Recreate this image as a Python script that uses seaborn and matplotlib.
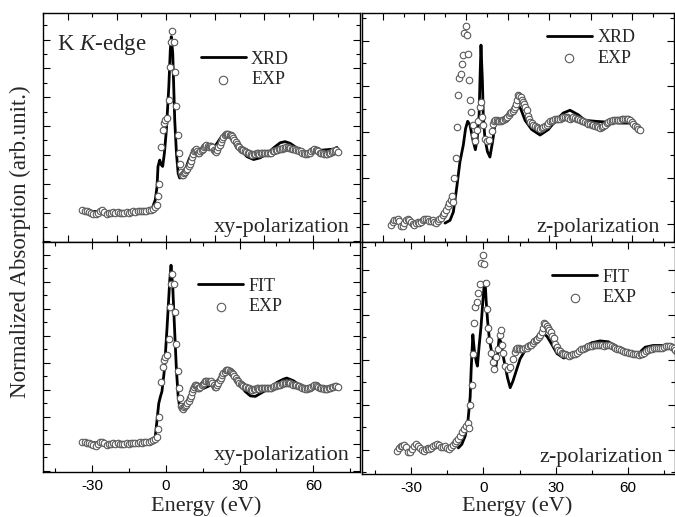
import numpy as np
import pandas as pd
import matplotlib
matplotlib.use("Agg")
import matplotlib.pyplot as plt
from matplotlib.ticker import MultipleLocator
import seaborn as sns

sns.set_theme(style="white")
plt.rcParams['font.family'] = ['Liberation Serif', 'DejaVu Serif']
plt.rcParams['mathtext.fontset'] = 'custom'
plt.rcParams['mathtext.rm'] = 'Liberation Serif'
plt.rcParams['mathtext.it'] = 'Liberation Serif:italic'

# ---------------- data ----------------
# experimental xy-polarization spectrum (energy eV, normalized absorption)
xy_exp_E = [-34.0, -33.1, -32.2, -31.3, -30.4, -29.5, -28.6, -27.7, -26.8, -25.9, -25.0, -24.1,
            -23.2, -22.3, -21.4, -20.5, -19.6, -18.7, -17.8, -16.9, -16.0, -15.1, -14.2, -13.3,
            -12.4, -11.5, -10.6, -9.7, -8.8, -7.9, -7.0, -6.1, -5.2, -4.3,
            -3.6, -3.3, -2.9, -1.8, -1.3, -0.9, -0.2, 0.5, 1.2, 1.6, 2.2, 2.5, 3.2, 3.6, 4.3, 4.8, 5.2,
            5.6, 6.2, 6.7, 7.1, 7.5, 7.9, 8.3, 8.8, 9.3, 9.7, 10.1, 10.6, 11.0, 11.4, 11.8, 12.2,
            12.7, 13.1, 13.5, 14.0, 14.5, 15.0, 15.5, 16.0, 16.5, 17.0, 17.4, 17.9, 18.4, 18.9,
            19.4, 19.9, 20.4, 20.9, 21.4, 21.9, 22.4, 22.9, 23.4, 23.9, 24.4, 24.9, 25.4, 25.9,
            26.4, 26.9, 27.4, 27.9, 28.4, 28.9, 29.4, 29.9, 30.4, 30.9, 31.5, 32.1, 32.7, 33.3,
            33.9, 34.5, 35.1, 35.7, 36.3, 36.9, 37.5, 38.1, 38.7, 39.3, 39.9, 40.5, 41.1, 41.7,
            42.3, 42.9, 43.5, 44.1, 44.7, 45.3, 45.9, 46.5, 47.1, 47.7, 48.3, 48.9, 49.5, 50.1,
            50.7, 51.3, 51.9, 52.5, 53.1, 53.7, 54.3, 54.9, 55.5, 56.1, 56.7, 57.3, 57.9, 58.5,
            59.1, 59.7, 60.3, 60.9, 61.5, 62.1, 62.7, 63.3, 63.9, 64.5, 65.1, 65.7, 66.3, 66.9,
            67.5, 68.1, 68.7, 69.3, 69.9]
xy_exp_A = [0.04, 0.03, 0.02, 0.01, 0.00, -0.02, -0.03, 0.00, 0.03, 0.04, 0.01, -0.02,
            -0.01, 0.00, 0.01, 0.00, 0.01, 0.00, -0.01, 0.00, 0.01, 0.00, 0.01, 0.02,
            0.01, 0.02, 0.03, 0.02, 0.03, 0.03, 0.04, 0.05, 0.07, 0.10,
            0.13, 0.28, 0.50, 1.14, 1.43, 1.55, 1.61, 1.64, 1.95, 2.53, 2.96, 3.15, 2.96, 2.44, 1.85, 1.35, 1.03,
            0.85, 0.71, 0.66, 0.65, 0.68, 0.70, 0.73, 0.76, 0.80, 0.85, 0.89, 0.97, 1.01, 1.06, 1.09, 1.10,
            1.07, 1.04, 1.03, 1.06, 1.09, 1.11, 1.13, 1.16, 1.17, 1.16, 1.14, 1.15, 1.16, 1.13,
            1.09, 1.06, 1.05, 1.09, 1.13, 1.18, 1.22, 1.27, 1.31, 1.34, 1.36, 1.37, 1.37, 1.35,
            1.34, 1.32, 1.29, 1.26, 1.22, 1.19, 1.16, 1.13, 1.11, 1.09, 1.08, 1.06, 1.05, 1.04,
            1.03, 1.01, 1.00, 1.02, 1.02, 1.03, 1.03, 1.02, 1.03, 1.03, 1.03, 1.04, 1.04, 1.03,
            1.03, 1.04, 1.06, 1.07, 1.08, 1.09, 1.10, 1.10, 1.11, 1.12, 1.12, 1.13, 1.13, 1.12,
            1.12, 1.11, 1.10, 1.10, 1.09, 1.08, 1.07, 1.06, 1.04, 1.03, 1.02, 1.02, 1.03, 1.04,
            1.06, 1.08, 1.10, 1.09, 1.08, 1.06, 1.04, 1.03, 1.03, 1.02, 1.02, 1.02, 1.03, 1.04,
            1.05, 1.06, 1.07, 1.08, 1.05]

# XRD-model calculation, xy-polarization
xy_xrd_E = [-34.0, -20.0, -10.0, -6.5, -5.5, -4.3, -3.6, -3.2, -2.5, -1.9, -1.3, -0.6, 0.2, 1.2,
            1.8, 2.2, 2.8, 3.2, 3.6, 4.3, 5.0, 5.6, 6.6, 7.9, 9.3, 10.6, 12.0, 14.0, 16.1, 18.1,
            19.7, 20.8, 22.2, 24.2, 25.5, 26.9, 28.9, 30.9, 33.0, 35.7, 38.4, 41.1, 43.8, 46.5,
            48.5, 50.6, 52.6, 54.7, 57.4, 60.1, 62.8, 65.5, 68.2, 69.6]
xy_xrd_A = [0.02, 0.02, 0.02, 0.04, 0.08, 0.22, 0.45, 0.80, 0.91, 0.83, 0.80, 1.03, 1.43, 2.18,
            2.82, 3.05, 2.76, 2.18, 1.61, 1.03, 0.68, 0.60, 0.61, 0.74, 0.91, 1.03, 1.09, 1.07, 1.10, 1.11,
            1.14, 1.20, 1.29, 1.37, 1.39, 1.32, 1.19, 1.06, 0.97, 0.92, 0.95, 1.02, 1.12, 1.21,
            1.23, 1.20, 1.14, 1.08, 1.04, 1.06, 1.08, 1.09, 1.10, 1.13]

# fitted calculation, xy-polarization
xy_fit_E = [-34.0, -20.0, -10.0, -6.0, -4.3, -3.6, -2.9, -2.2, -1.6, -0.6, 0.5, 1.6, 2.1, 2.8,
            3.5, 4.3, 5.0, 5.6, 6.6, 7.5, 8.6, 9.95, 11.3, 13.3, 15.4, 17.4, 19.4, 21.5, 23.5,
            25.1, 26.5, 28.2, 30.3, 32.3, 34.4, 36.4, 39.8, 42.5, 45.2, 47.9, 49.2, 51.9, 54.7,
            57.4, 60.8, 64.1, 67.5, 69.6]
xy_fit_A = [0.02, 0.02, 0.02, 0.04, 0.14, 0.44, 0.75, 0.88, 0.97, 1.37, 2.17, 3.04, 3.31, 2.91,
            2.17, 1.37, 0.88, 0.69, 0.62, 0.66, 0.78, 0.91, 0.97, 1.00, 1.03, 1.07, 1.12, 1.19, 1.28,
            1.37, 1.36, 1.25, 1.09, 0.97, 0.89, 0.88, 0.97, 1.04, 1.14, 1.20, 1.22, 1.17, 1.08,
            1.03, 1.04, 1.04, 1.07, 1.08]

# experimental z-polarization spectrum
z_exp_E = [-36.0, -35.2, -34.4, -33.6, -32.8, -32.0, -31.2, -30.4, -29.6, -28.8, -28.0, -27.2,
           -26.4, -25.6, -24.8, -24.0, -23.2, -22.4, -21.6, -20.8, -20.0, -19.2, -18.4, -17.6,
           -16.8, -16.0, -15.2, -14.4, -13.6, -12.8, -12.0, -11.2, -10.4, -9.6, -8.8, -8.0,
           -7.2, -6.6, -6.1, -5.6, -4.8, -4.5, -4.0, -3.4, -2.6, -2.1, -1.3, -1.0, -0.2, 0.3,
           1.1, 1.4, 1.9, 2.4, 3.2, 3.8, 4.5, 5.1, 5.9, 6.7, 7.1, 7.5, 8.3, 9.1, 10.3, 11.2,
           12.3, 13.0, 13.5, 14.1, 14.7, 15.3, 16.0, 16.6, 17.3, 17.9, 18.6, 19.2, 19.8, 20.5,
           21.1, 21.8, 22.4, 23.0, 23.6, 24.2, 24.7, 25.2, 25.7, 26.3, 26.8, 27.4, 28.0, 28.6,
           29.2, 29.8, 30.4, 31.0, 31.6, 32.4, 33.2, 34.0, 34.8, 35.6, 36.4, 37.2, 38.0, 38.8,
           39.6, 40.4, 41.2, 42.0, 42.8, 43.6, 44.4, 45.2, 46.0, 46.8, 47.6, 48.4, 49.2, 50.0,
           50.8, 51.6, 52.4, 53.2, 54.0, 54.8, 55.6, 56.4, 57.2, 58.0, 58.8, 59.6, 60.4, 61.2,
           62.0, 62.8, 63.6, 64.4, 65.2, 66.0, 66.8, 67.6, 68.4, 69.2, 70.0, 70.9, 71.7, 72.5,
           73.3, 74.1, 74.9, 75.7, 76.5, 77.3, 78.1, 78.9, 79.7, 80.5, 81.3, 82.1, 82.9, 83.7]
z_exp_A = [-0.01, 0.02, 0.04, 0.04, 0.05, 0.03, -0.02, -0.02, 0.01, 0.04, 0.06, 0.04,
           0.02, 0.00, -0.01, 0.01, 0.02, 0.01, 0.02, 0.04, 0.05, 0.06, 0.05, 0.03,
           0.03, 0.04, 0.02, 0.01, 0.03, 0.05, 0.07, 0.10, 0.12, 0.15, 0.20, 0.23,
           0.26, 0.30, 0.24, 0.50, 0.72, 1.06, 1.41, 1.59, 1.64, 1.74, 1.84, 2.08, 2.16, 2.06,
           1.85, 1.57, 1.35, 1.22, 1.08, 0.97, 0.90, 1.03, 1.12, 1.28, 1.33, 1.17, 1.08, 0.93, 0.90, 0.92,
           1.01, 1.09, 1.12, 1.13, 1.13, 1.12, 1.12, 1.12, 1.13, 1.13, 1.15, 1.16, 1.17, 1.19,
           1.21, 1.22, 1.23, 1.25, 1.28, 1.31, 1.35, 1.41, 1.40, 1.38, 1.35, 1.33, 1.31, 1.27,
           1.24, 1.18, 1.14, 1.11, 1.10, 1.08, 1.07, 1.06, 1.05, 1.04, 1.05, 1.06, 1.07, 1.08,
           1.10, 1.12, 1.12, 1.13, 1.14, 1.15, 1.15, 1.15, 1.16, 1.17, 1.17, 1.17, 1.16, 1.15,
           1.16, 1.17, 1.16, 1.15, 1.14, 1.13, 1.12, 1.12, 1.11, 1.10, 1.09, 1.09, 1.08, 1.08,
           1.07, 1.07, 1.06, 1.05, 1.06, 1.07, 1.08, 1.10, 1.11, 1.12, 1.12, 1.13, 1.13, 1.13,
           1.13, 1.13, 1.14, 1.15, 1.15, 1.15, 1.14, 1.13, 1.11, 1.09, 1.07, 1.06, 1.04, 1.03]

# XRD-model calculation, z-polarization
z_xrd_E = [-10.1, -7.7, -6.1, -4.5, -2.9, -1.3, -0.2, 0.8, 1.9, 3.2, 4.5, 5.4, 6.3, 6.7, 7.2,
           7.9, 8.3, 9.1, 10.3, 11.5, 12.8, 13.9, 15.1, 17.1, 19.6, 22.0, 24.0, 25.0, 26.4,
           28.4, 31.6, 35.6, 39.6, 42.8, 46.8, 50.0, 54.0, 57.2, 62.0, 68.4, 74.8, 81.3]
z_xrd_A = [0.01, 0.04, 0.13, 0.39, 0.68, 0.86, 1.04, 1.12, 1.08, 0.93, 0.81, 0.93, 1.19, 1.55, 1.95,
           1.55, 1.19, 0.93, 0.79, 0.73, 0.90, 1.08, 1.12, 1.13, 1.15, 1.21, 1.28, 1.30, 1.25,
           1.13, 1.03, 0.97, 1.03, 1.12, 1.21, 1.24, 1.19, 1.13, 1.12, 1.11, 1.10, 1.10]

# fitted calculation, z-polarization
z_fit_E = [-10.4, -9.0, -7.6, -6.5, -5.5, -5.1, -4.7, -4.4, -3.8, -3.0, -2.5, -1.8, -1.0, -0.3,
           0.3, 0.7, 1.1, 1.7, 2.5, 3.5, 4.5, 5.1, 5.8, 6.5, 7.2, 8.0, 9.0, 10.0, 11.1, 12.2,
           13.4, 15.2, 17.4, 20.2, 23.0, 24.6, 26.4, 28.4, 30.5, 33.3, 36.0, 38.8, 42.2, 45.0,
           48.4, 51.9, 54.7, 57.4, 61.6, 64.4, 67.1, 70.6, 74.1, 78.2, 80.3]
z_fit_A = [0.02, 0.06, 0.15, 0.30, 0.59, 0.89, 1.11, 1.28, 1.11, 0.98, 0.93, 1.15, 1.37, 1.63,
           1.83, 1.87, 1.67, 1.44, 1.22, 1.07, 0.96, 0.91, 1.04, 1.24, 1.20, 1.07, 0.93, 0.80, 0.69, 0.76,
           0.86, 1.01, 1.11, 1.19, 1.28, 1.30, 1.26, 1.17, 1.07, 1.02, 1.04, 1.09, 1.15, 1.19,
           1.21, 1.20, 1.15, 1.11, 1.06, 1.07, 1.14, 1.16, 1.16, 1.14, 1.13]

x_tick_labels = ["-30", "0", "30", "60"]
x_tick_values = [-30, 0, 30, 60]
panel_labels = ["xy-polarization", "z-polarization", "xy-polarization", "z-polarization"]
curve_names = ["XRD", "XRD", "FIT", "FIT"]

# ---------------- figure ----------------
W, H = 675, 517
fig = plt.figure(figsize=(W / 100, H / 100), dpi=100)
fig.patch.set_facecolor("white")


def ax_px(x0, x1, ytop, ybot):
    return fig.add_axes([x0 / W, 1 - ybot / H, (x1 - x0) / W, (ybot - ytop) / H])


ax_tl = ax_px(43, 360, 13, 242)
ax_tr = ax_px(362, 674, 13, 242)
ax_bl = ax_px(43, 360, 242, 472)
ax_br = ax_px(362, 675, 242, 474)

panels = [
    (ax_tl, xy_xrd_E, xy_xrd_A, xy_exp_E, xy_exp_A, (-50, 79), (-0.51, 3.46), 20, 10, False),
    (ax_tr, z_xrd_E, z_xrd_A, z_exp_E, z_exp_A, (-50, 100), (-0.196, 2.30), 20, 10, False),
    (ax_bl, xy_fit_E, xy_fit_A, xy_exp_E, xy_exp_A, (-50, 79), (-0.52, 3.74), 30, 15, True),
    (ax_br, z_fit_E, z_fit_A, z_exp_E, z_exp_A, (-50.4, 79.5), (-0.27, 2.31), 30, 15, True),
]

leg_anchor = [(0.497, 0.835), (0.592, 0.93), (0.49, 0.845), (0.607, 0.885)]
lab_pos = [(0.968, 0.045), (0.955, 0.045), (0.968, 0.052), (0.962, 0.053)]

for i, (ax, cE, cA, eE, eA, xl, yl, xmaj, xmin, lab) in enumerate(panels):
    sns.lineplot(x=cE, y=cA, ax=ax, color="black", lw=2.0, sort=False,
                 estimator=None, label=curve_names[i], zorder=2)
    sns.scatterplot(x=eE, y=eA, ax=ax, marker="o", s=22, facecolor="white",
                    edgecolor="#5a5a5a", linewidth=0.8, label="EXP", zorder=3)
    ax.set_xlim(*xl)
    ax.set_ylim(*yl)
    ax.set_xlabel("")
    ax.set_ylabel("")
    ax.xaxis.set_major_locator(MultipleLocator(xmaj))
    ax.xaxis.set_minor_locator(MultipleLocator(xmin))
    ax.yaxis.set_major_locator(MultipleLocator(0.5))
    ax.yaxis.set_minor_locator(MultipleLocator(0.25))
    ax.tick_params(which="both", direction="in", top=True, right=True,
                   bottom=True, left=True, labelleft=False, labelbottom=lab,
                   colors="black", width=0.8)
    ax.tick_params(which="major", length=5)
    ax.tick_params(which="minor", length=3)
    if lab:
        ax.set_xticks(x_tick_values)
        ax.set_xticklabels(x_tick_labels, family="Liberation Sans", fontsize=11)
        ax.tick_params(axis="x", pad=5)
    for s in ax.spines.values():
        s.set_color("black")
        s.set_linewidth(1.0)
    ax.set_facecolor("white")
    ax.legend(loc="upper left", bbox_to_anchor=leg_anchor[i], frameon=False,
              borderpad=0, borderaxespad=0, handlelength=2.5, handletextpad=0.3,
              labelspacing=0.2, fontsize=13, markerscale=1.3)
    ax.text(lab_pos[i][0], lab_pos[i][1], panel_labels[i], transform=ax.transAxes,
            ha="right", va="baseline", fontsize=16)

ax_tl.text(0.045, 0.838, "K $K$-edge", transform=ax_tl.transAxes, ha="left",
           va="baseline", fontsize=16.5)

fig.text(20 / W, 1 - 242 / H, "Normalized Absorption (arb.unit.)", rotation=90,
         ha="center", va="center", fontsize=16.5)
fig.text(206 / W, 1 - 511 / H, "Energy (eV)", ha="center", va="baseline", fontsize=16)
fig.text(517 / W, 1 - 511 / H, "Energy (eV)", ha="center", va="baseline", fontsize=16)

fig.savefig("out.png", dpi=100, facecolor="white")
